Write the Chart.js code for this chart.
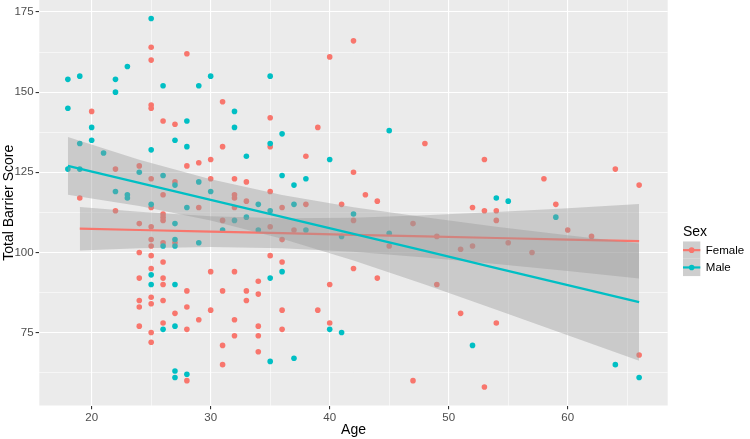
<!DOCTYPE html>
<html>
<head>
<meta charset="utf-8">
<script src="https://cdn.jsdelivr.net/npm/chart.js@4/dist/chart.umd.min.js"></script>
<style>
  html, body { margin: 0; padding: 0; background: #ffffff; }
  #wrap { width: 750px; height: 439px; }
</style>
</head>
<body>
<div id="wrap"><canvas id="myChart"></canvas></div>
<script>
// Female respondents: age and total barrier score
const femaleAge = [
    19, 20, 22, 22,
    24, 24, 24, 24, 24, 24, 24,
    25, 25, 25, 25, 25, 25, 25, 25, 25, 25, 25, 25, 25, 25, 25,
    26, 26, 26, 26, 26, 26, 26, 26, 26, 26, 26,
    27, 27, 27, 27,
    28, 28, 28, 28, 28, 28,
    29, 29, 29,
    30, 30, 30, 30,
    31, 31, 31, 31, 31, 31,
    32, 32, 32, 32, 32, 32, 32,
    33, 33, 33, 33,
    34, 34, 34, 34, 34,
    35, 35, 35, 35, 35,
    36, 36, 36, 36, 36,
    37, 38, 38, 39, 39, 40, 40, 40, 41,
    42, 42, 42, 42, 43, 44, 44, 45, 47, 47, 48, 49, 49,
    51, 51, 52, 52, 53, 53, 53, 54, 54, 54, 55, 57, 58, 59, 60, 62, 64, 66, 66
];
const femaleScore = [
    117, 144, 126, 113,
    127, 109, 100, 92, 85, 83, 77,
    164, 160, 146, 145, 123, 114, 108, 104, 102, 99, 95, 86, 84, 75, 72,
    141, 118, 112, 111, 110, 103, 97, 92, 90, 85, 78,
    140, 122, 103, 81,
    162, 127, 88, 83, 76, 60,
    128, 114, 79,
    129, 123, 94, 82,
    147, 133, 110, 88, 71, 65,
    123, 118, 117, 114, 94, 79, 74,
    122, 116, 88, 85,
    91, 87, 77, 74, 69,
    142, 133, 119, 108, 99,
    114, 104, 97, 82, 76,
    107, 130, 115, 139, 82, 161, 90, 78, 115,
    166, 125, 110, 95, 118, 116, 92, 102, 109, 60, 134, 105, 90,
    101, 81, 114, 102, 129, 113, 58, 113, 110, 78, 103, 100, 123, 115, 107, 105, 126, 121, 68
];

// Male respondents: age and total barrier score
const maleAge = [
    18, 18, 18, 19, 19, 19, 20, 20, 21, 22, 22, 22, 23, 23, 23, 24,
    25, 25, 25, 25, 25, 26, 26, 26, 26,
    27, 27, 27, 27, 27, 27, 27, 27, 27,
    28, 28, 28, 28, 29, 29, 29, 30, 30, 31, 32, 32, 32, 33, 33, 34, 34,
    35, 35, 35, 35, 35, 36, 36, 36, 37, 37, 37, 38, 38,
    40, 40, 41, 41, 42, 45, 45, 52, 54, 55, 59, 64, 66
];
const maleScore = [
    154, 145, 126, 155, 134, 126, 139, 135, 131, 154, 150, 119, 158, 118, 117, 125,
    173, 132, 115, 93, 90, 152, 124, 102, 76,
    135, 121, 109, 104, 102, 90, 77, 63, 61,
    141, 133, 114, 62, 152, 122, 103, 155, 119, 107, 144, 139, 110, 130, 111, 115, 107,
    155, 134, 113, 92, 66, 137, 124, 94, 121, 115, 67, 123, 107,
    129, 76, 105, 75, 112, 138, 106, 71, 117, 116, 111, 65, 61
];

// linear trend and 95% band
const femaleBandAge = [19, 24, 30, 36, 42, 48, 54, 60, 66];
const femaleFit     = [107.4, 107.0, 106.5, 106.0, 105.5, 105.0, 104.5, 104.0, 103.5];
const femaleUpper   = [114.2, 112.7, 111.3, 110.7, 110.8, 111.6, 112.6, 113.8, 115.1];
const femaleLower   = [100.6, 101.3, 101.7, 101.3, 100.2, 98.4, 96.4, 94.2, 91.9];

const maleBandAge = [18, 24, 30, 36, 42, 48, 54, 60, 66];
const maleFit     = [127.0, 121.7, 116.4, 111.1, 105.8, 100.5, 95.1, 89.8, 84.5];
const maleUpper   = [136.0, 128.9, 122.8, 117.9, 114.1, 111.0, 108.0, 105.4, 102.8];
const maleLower   = [118.0, 114.5, 110.0, 104.3, 97.5, 90.0, 82.1, 74.2, 66.2];

const xGrid = [20, 25, 30, 35, 40, 45, 50, 55, 60, 65];
const xTickLabels = [20, 30, 40, 50, 60];
const yGrid = [62.5, 75, 87.5, 100, 112.5, 125, 137.5, 150, 162.5, 175];
const yTickLabels = [75, 100, 125, 150, 175];
const xRange = [15.6, 68.4];
const yRange = [52.25, 178.75];

const femaleColor = '#F8766D';
const maleColor = '#00BFC4';
const ribbonColor = 'rgba(153,153,153,0.4)';
const panelColor = '#EBEBEB';

const toPoints = (xs, ys) => xs.map((x, i) => ({ x: x, y: ys[i] }));

const panelBackground = {
    id: 'panelBackground',
    beforeDraw(chart) {
        const { ctx, chartArea } = chart;
        ctx.save();
        ctx.fillStyle = panelColor;
        ctx.fillRect(chartArea.left, chartArea.top, chartArea.right - chartArea.left, chartArea.bottom - chartArea.top);
        ctx.restore();
    }
};

// ggplot style legend on the right
const sexLegend = {
    id: 'sexLegend',
    afterDraw(chart) {
        const ctx = chart.ctx;
        const x0 = 683;
        const keySize = 17.3;
        const top = 241.5;
        ctx.save();
        ctx.fillStyle = '#000000';
        ctx.font = '14px "Liberation Sans", Arial, sans-serif';
        ctx.textBaseline = 'middle';
        ctx.textAlign = 'left';
        ctx.fillText('Sex', x0, 232);
        const items = [['Female', femaleColor], ['Male', maleColor]];
        items.forEach((item, i) => {
            const y = top + i * keySize;
            ctx.fillStyle = '#F2F2F2';
            ctx.fillRect(x0, y, keySize, keySize);
            ctx.fillStyle = ribbonColor;
            ctx.fillRect(x0, y, keySize, keySize);
            ctx.strokeStyle = item[1];
            ctx.lineWidth = 2.2;
            ctx.beginPath();
            ctx.moveTo(x0, y + keySize / 2);
            ctx.lineTo(x0 + keySize, y + keySize / 2);
            ctx.stroke();
            ctx.fillStyle = item[1];
            ctx.beginPath();
            ctx.arc(x0 + keySize / 2, y + keySize / 2, 2.8, 0, Math.PI * 2);
            ctx.fill();
            ctx.fillStyle = '#000000';
            ctx.font = '11.5px "Liberation Sans", Arial, sans-serif';
            ctx.fillText(item[0], x0 + keySize + 5.5, y + keySize / 2 + 0.5);
        });
        ctx.restore();
    }
};

const lineDefaults = { showLine: true, pointRadius: 0, pointHoverRadius: 0, tension: 0 };
const isEdge = (v, range) => v === range[0] || v === range[1];

function axisOptions(grid, labels, range, title, titlePad) {
    return {
        type: 'linear',
        min: range[0],
        max: range[1],
        afterBuildTicks: (s) => { s.ticks = [range[0], ...grid, range[1]].map(v => ({ value: v })); },
        border: { display: false },
        grid: {
            color: (c) => isEdge(c.tick.value, range) ? 'rgba(0,0,0,0)' : '#FFFFFF',
            lineWidth: (c) => labels.includes(c.tick.value) ? 1.1 : 0.55,
            tickColor: (c) => labels.includes(c.tick.value) ? '#333333' : 'rgba(0,0,0,0)',
            tickLength: 3.7,
            tickWidth: 1.1
        },
        ticks: {
            autoSkip: false,
            maxRotation: 0,
            padding: 2,
            color: '#4D4D4D',
            font: { family: '"Liberation Sans", Arial, sans-serif', size: 11.5 },
            callback: (v) => isEdge(v, range) ? [] : (labels.includes(v) ? String(v) : '')
        },
        title: {
            display: true,
            text: title,
            color: '#000000',
            padding: titlePad,
            font: { family: '"Liberation Sans", Arial, sans-serif', size: 14 }
        }
    };
}

// fixed axis boxes and no label overflow padding, so the panel sits where ggplot put it
const xAxis = axisOptions(xGrid, xTickLabels, xRange, 'Age', { top: 1, bottom: 0 });
xAxis.afterFit = (s) => { s.height = 33.5; s.paddingLeft = 0; s.paddingRight = 0; };
const yAxis = axisOptions(yGrid, yTickLabels, yRange, 'Total Barrier Score', { top: 1, bottom: 2 });
yAxis.afterFit = (s) => { s.width = 39.3; s.paddingTop = 0; s.paddingBottom = 0; };

const ctx = document.getElementById('myChart').getContext('2d');
new Chart(ctx, {
    type: 'scatter',
    data: {
        datasets: [
            { label: 'Female', data: toPoints(femaleAge, femaleScore), backgroundColor: femaleColor, borderWidth: 0, pointRadius: 2.8, order: 10 },
            { label: 'Male', data: toPoints(maleAge, maleScore), backgroundColor: maleColor, borderWidth: 0, pointRadius: 2.8, order: 9 },
            { ...lineDefaults, label: 'Female upper', data: toPoints(femaleBandAge, femaleUpper), borderWidth: 0, borderColor: 'rgba(0,0,0,0)', backgroundColor: ribbonColor, fill: 3, order: 8 },
            { ...lineDefaults, label: 'Female lower', data: toPoints(femaleBandAge, femaleLower), borderWidth: 0, borderColor: 'rgba(0,0,0,0)', fill: false, order: 8 },
            { ...lineDefaults, label: 'Female fit', data: toPoints(femaleBandAge, femaleFit), borderColor: femaleColor, borderWidth: 2.2, fill: false, order: 7 },
            { ...lineDefaults, label: 'Male upper', data: toPoints(maleBandAge, maleUpper), borderWidth: 0, borderColor: 'rgba(0,0,0,0)', backgroundColor: ribbonColor, fill: 6, order: 6 },
            { ...lineDefaults, label: 'Male lower', data: toPoints(maleBandAge, maleLower), borderWidth: 0, borderColor: 'rgba(0,0,0,0)', fill: false, order: 6 },
            { ...lineDefaults, label: 'Male fit', data: toPoints(maleBandAge, maleFit), borderColor: maleColor, borderWidth: 2.2, fill: false, order: 5 }
        ]
    },
    options: {
        responsive: true,
        maintainAspectRatio: false,
        animation: false,
        layout: { autoPadding: false, padding: { top: 0, right: 82.3, bottom: 0, left: 0 } },
        plugins: {
            legend: { display: false },
            tooltip: { enabled: false },
            filler: { propagate: false }
        },
        scales: { x: xAxis, y: yAxis }
    },
    plugins: [panelBackground, sexLegend]
});
</script>
</body>
</html>
